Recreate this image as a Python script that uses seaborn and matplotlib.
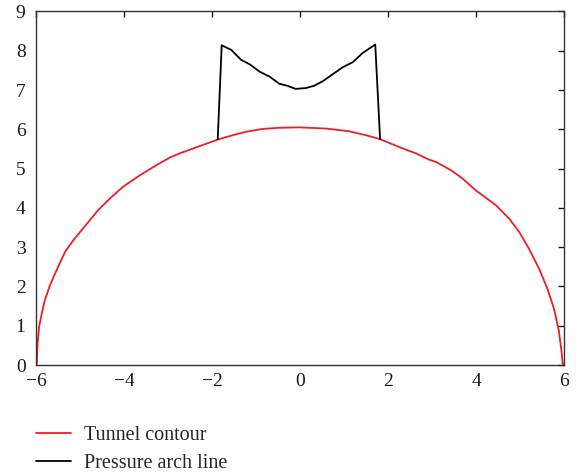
import numpy as np
import pandas as pd
import matplotlib
matplotlib.use("Agg")
import matplotlib.pyplot as plt
from matplotlib.lines import Line2D
import seaborn as sns

# Tunnel contour (x, y in m)
contour_x = [-6.00, -5.98, -5.97, -5.93, -5.87, -5.80, -5.68, -5.53, -5.34, -5.15,
             -4.93, -4.59, -4.32, -4.02, -3.64, -3.26, -2.96, -2.73, -2.36, -1.87,
             -1.53, -1.22, -0.85, -0.47, -0.01, 0.59, 1.12, 1.50, 1.82, 2.25,
             2.63, 2.93, 3.09, 3.43, 3.69, 3.99, 4.45, 4.75, 4.98, 5.20,
             5.43, 5.62, 5.77, 5.88, 5.94, 5.97, 6.00]
contour_y = [0.00, 0.04, 0.47, 0.97, 1.31, 1.65, 2.04, 2.42, 2.88, 3.18,
             3.48, 3.94, 4.24, 4.54, 4.83, 5.09, 5.28, 5.39, 5.54, 5.74,
             5.85, 5.94, 6.01, 6.04, 6.05, 6.02, 5.95, 5.85, 5.75, 5.55,
             5.39, 5.23, 5.17, 4.96, 4.75, 4.45, 4.07, 3.73, 3.39, 2.97,
             2.46, 1.95, 1.44, 0.89, 0.38, 0.04, 0.00]

# Pressure arch line (x, y in m)
arch_x = [-1.87, -1.78, -1.56, -1.34, -1.15, -0.92, -0.69, -0.47, -0.29, -0.10,
          0.13, 0.32, 0.51, 0.74, 0.97, 1.20, 1.42, 1.71, 1.82]
arch_y = [5.75, 8.14, 8.02, 7.77, 7.66, 7.47, 7.34, 7.16, 7.11, 7.03,
          7.05, 7.11, 7.22, 7.40, 7.58, 7.71, 7.94, 8.16, 5.75]

x_ticks = [-6, -4, -2, 0, 2, 4, 6]
y_ticks = [0, 1, 2, 3, 4, 5, 6, 7, 8, 9]

labels = ["Tunnel contour", "Pressure arch line"]
colors = {"Tunnel contour": "#ee1c24", "Pressure arch line": "black"}

df = pd.concat([
    pd.DataFrame({"x": contour_x, "y": contour_y, "line": labels[0]}),
    pd.DataFrame({"x": arch_x, "y": arch_y, "line": labels[1]}),
])

sns.set_style("white")
plt.rcParams["font.family"] = ["Liberation Serif", "DejaVu Serif"]

fig = plt.figure(figsize=(5.78, 4.73), dpi=100)
ax = fig.add_axes([0.0623, 0.2283, 0.9135, 0.7474])

sns.lineplot(data=df, x="x", y="y", hue="line", sort=False, estimator=None,
             palette=colors, linewidth=1.3, ax=ax, legend=False)

ax.set_xlim(-6, 6)
ax.set_ylim(0, 9)
ax.set_xticks(x_ticks)
ax.set_yticks(y_ticks)
ax.set_xticklabels([str(t).replace("-", "\u2212") for t in x_ticks])
ax.set_xlabel("")
ax.set_ylabel("")
ax.tick_params(direction="in", length=4, width=1, top=True, right=True,
               labelsize=14, colors="#1a1a1a")
ax.tick_params(axis="x", pad=6, labeltop=False, labelbottom=True)
ax.tick_params(axis="y", pad=7.5, labelright=False, labelleft=True)
for s in ax.spines.values():
    s.set_color("#333333")
    s.set_linewidth(1.0)

handles = [Line2D([], [], color=colors[l], lw=1.3) for l in labels]
fig.legend(handles, labels, loc="upper left", bbox_to_anchor=(0.0623, 0.099),
           frameon=False, fontsize=14.5, handlelength=1.75, handletextpad=0.65,
           labelspacing=0.42, borderpad=0, borderaxespad=0)

fig.savefig("out.png", dpi=100)
